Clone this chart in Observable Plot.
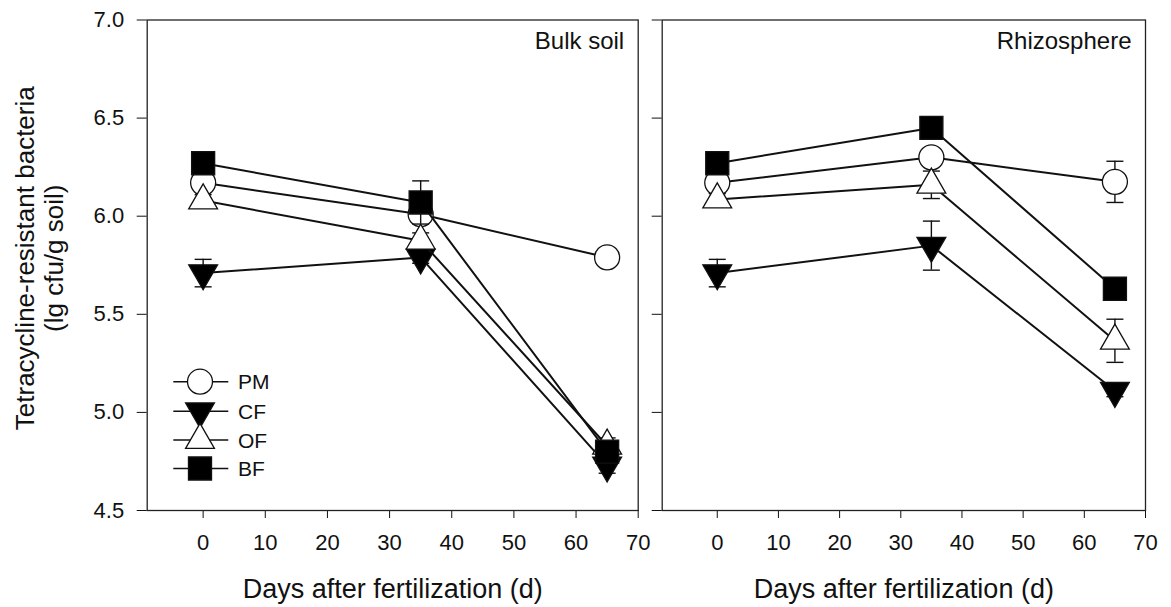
<!DOCTYPE html>
<html><head><meta charset="utf-8">
<script src="https://cdn.jsdelivr.net/npm/d3@7"></script>
<script src="https://cdn.jsdelivr.net/npm/@observablehq/plot@0.6"></script>
<style>
body{margin:0;background:#fff;}
#chart{position:relative;width:1171px;height:607px;font-family:"Liberation Sans",Arial,sans-serif;overflow:hidden;}
#chart svg{position:absolute;top:0;overflow:visible;}
</style></head><body><div id="chart"></div>
<script>
// ---- data ----
const days = [0, 35, 65];
const seriesNames = ["PM", "CF", "OF", "BF"];
const xTicks = [0, 10, 20, 30, 40, 50, 60, 70];
const yTicks = [4.5, 5.0, 5.5, 6.0, 6.5, 7.0];
const panelTitles = ["Bulk soil", "Rhizosphere"];
const xTitle = "Days after fertilization (d)";
const yTitle1 = "Tetracycline-resistant bacteria";
const yTitle2 = "(lg cfu/g soil)";

const bulkPM = [6.17, 6.01, 5.79];
const bulkCF = [5.71, 5.79, 4.73];
const bulkOF = [6.08, 5.875, 4.83];
const bulkBF = [6.27, 6.07, 4.80];
const bulkPMErr = [0.03, 0.04, 0.03];
const bulkCFErr = [0.07, 0.03, 0.04];
const bulkOFErr = [0.03, 0.04, 0.04];
const bulkBFErr = [0.03, 0.11, 0.04];

const rhizoPM = [6.17, 6.30, 6.175];
const rhizoCF = [5.71, 5.85, 5.11];
const rhizoOF = [6.085, 6.16, 5.365];
const rhizoBF = [6.27, 6.45, 5.63];
const rhizoPMErr = [0.03, 0.04, 0.105];
const rhizoCFErr = [0.07, 0.125, 0.03];
const rhizoOFErr = [0.03, 0.07, 0.11];
const rhizoBFErr = [0.03, 0.03, 0.03];

// ---- helpers ----
function rows(vals, errs) {
  const out = [];
  seriesNames.forEach((s, i) => {
    days.forEach((d, j) => out.push({series: s, day: d, v: vals[i][j], e: errs[i][j]}));
  });
  return out;
}
const bulkRows = rows([bulkPM, bulkCF, bulkOF, bulkBF], [bulkPMErr, bulkCFErr, bulkOFErr, bulkBFErr]);
const rhizoRows = rows([rhizoPM, rhizoCF, rhizoOF, rhizoBF], [rhizoPMErr, rhizoCFErr, rhizoOFErr, rhizoBFErr]);

const triDown = {draw(ctx, size) {
  const y = Math.sqrt(size / (Math.sqrt(3) * 3));
  ctx.moveTo(0, 2 * y); ctx.lineTo(Math.sqrt(3) * y, -y); ctx.lineTo(-Math.sqrt(3) * y, -y); ctx.closePath();
}};
const capSym = {draw(ctx, size) { ctx.moveTo(-8.5, 0); ctx.lineTo(8.5, 0); }};
const styleOf = {
  PM: {symbol: d3.symbolCircle, r: 12.5, fill: "white"},
  CF: {symbol: triDown, r: 10.7, fill: "black"},
  OF: {symbol: d3.symbolTriangle, r: 10.7, fill: "white"},
  BF: {symbol: d3.symbolSquare, r: 13, fill: "black"}
};
const FONT = '"Liberation Sans", Arial, sans-serif';
const INK = "#111";

function seriesMarks(data) {
  const marks = [];
  for (const s of seriesNames) {
    const d = data.filter(r => r.series === s);
    const st = styleOf[s];
    marks.push(Plot.line(d, {x: "day", y: "v", stroke: INK, strokeWidth: 2}));
    marks.push(Plot.ruleX(d, {x: "day", y1: r => r.v - r.e, y2: r => r.v + r.e, stroke: INK, strokeWidth: 1.4}));
    marks.push(Plot.dot(d, {x: "day", y: r => r.v + r.e, symbol: capSym, fill: "none", stroke: INK, strokeWidth: 1.4}));
    marks.push(Plot.dot(d, {x: "day", y: r => r.v - r.e, symbol: capSym, fill: "none", stroke: INK, strokeWidth: 1.4}));
    marks.push(Plot.dot(d, {x: "day", y: "v", symbol: st.symbol, r: st.r, fill: st.fill, stroke: INK, strokeWidth: 1.3}));
  }
  return marks;
}

function panel(data, title, opts) {
  const marks = [
    Plot.frame({stroke: "#222", strokeWidth: 1.3}),
    ...seriesMarks(data),
    Plot.text([title], {text: d => d, frameAnchor: "top-right", textAnchor: "end", lineAnchor: "bottom", dx: -14, dy: 28.5, fontSize: 24, fill: INK}),
    Plot.text([xTitle], {text: d => d, frameAnchor: "bottom", textAnchor: "middle", lineAnchor: "bottom", dy: 87, fontSize: 27, fill: INK})
  ];
  if (opts.yTitle) {
    marks.push(Plot.text([yTitle1], {text: d => d, frameAnchor: "left", textAnchor: "middle", lineAnchor: "bottom", rotate: -90, dx: 33 - opts.marginLeft, dy: -7, fontSize: 26, fill: INK}));
    marks.push(Plot.text([yTitle2], {text: d => d, frameAnchor: "left", textAnchor: "middle", lineAnchor: "bottom", rotate: -90, dx: 62 - opts.marginLeft, dy: -7, fontSize: 26, fill: INK}));
  }
  return Plot.plot({
    width: opts.width, height: 607,
    marginTop: 19.5, marginBottom: 97, marginLeft: opts.marginLeft, marginRight: opts.marginRight,
    style: {fontSize: "22px", fontFamily: FONT, color: INK, background: "transparent"},
    x: {domain: [-9, 70], ticks: xTicks, tickFormat: d => String(d), tickSize: 8, tickPadding: 16, label: null},
    y: {domain: [4.5, 7.0], ticks: yTicks, tickFormat: opts.yLabels ? (d => d.toFixed(1)) : (() => ""), tickSize: 10, tickPadding: 13, label: null},
    marks
  });
}

const chart = document.getElementById("chart");
const left = panel(bulkRows, panelTitles[0], {width: 650, marginLeft: 146.7, marginRight: 12.3, yLabels: true, yTitle: true});
left.style.left = "0px";
chart.appendChild(left);
const right = panel(rhizoRows, panelTitles[1], {width: 521, marginLeft: 11.7, marginRight: 26, yLabels: false, yTitle: false});
right.style.left = "650px";
chart.appendChild(right);

// ---- legend ----
const lg = d3.select(chart).append("svg")
  .attr("width", 120).attr("height", 130)
  .style("left", "160px").style("top", "360px");
const rowY = [21.7, 51.2, 80, 108.5];
seriesNames.forEach((s, i) => {
  const st = styleOf[s];
  const g = lg.append("g").attr("transform", `translate(0,${rowY[i]})`);
  g.append("line").attr("x1", 13.3).attr("x2", 68.3).attr("y1", 0).attr("y2", 0).attr("stroke", INK).attr("stroke-width", 1.5);
  g.append("path").attr("transform", "translate(40,0)")
    .attr("d", d3.symbol(st.symbol, st.r * st.r * Math.PI)())
    .attr("fill", st.fill).attr("stroke", INK).attr("stroke-width", 1.3);
  g.append("text").attr("x", 78).attr("y", 0).attr("dy", "0.36em")
    .attr("font-size", 21).attr("font-family", FONT).attr("fill", INK).text(s);
});
</script>
</body></html>
